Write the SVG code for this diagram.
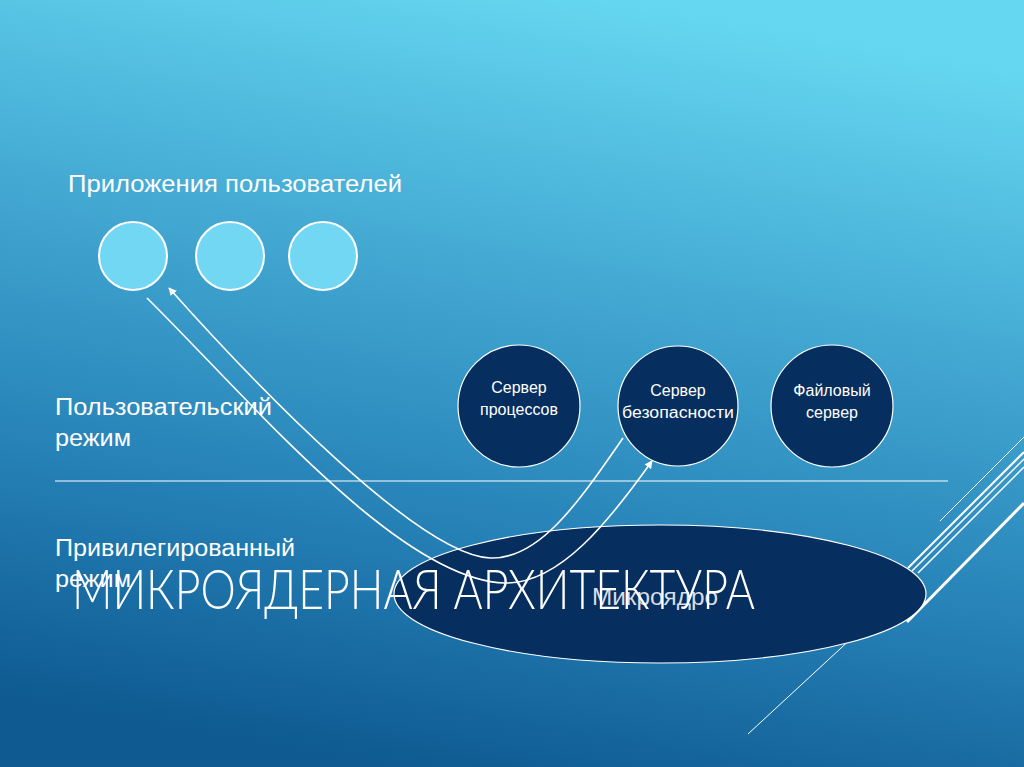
<svg xmlns="http://www.w3.org/2000/svg" width="1024" height="767" viewBox="0 0 1024 767">
<defs>
<linearGradient id="bg" x1="0.62" y1="0" x2="0.38" y2="1">
<stop offset="0" stop-color="#66d7f1"/>
<stop offset="0.35" stop-color="#44aad3"/>
<stop offset="0.7" stop-color="#2580b6"/>
<stop offset="1" stop-color="#0e5a91"/>
</linearGradient>
<marker id="ah" viewBox="0 0 10 10" refX="9" refY="5" markerWidth="5" markerHeight="5" orient="auto" markerUnits="strokeWidth">
<path d="M0,0 L10,5 L0,10 z" fill="#ffffff"/>
</marker>
<style>
.lbl{font-family:"Liberation Sans","DejaVu Sans",sans-serif;fill:#ffffff;font-size:23px}
.srv{font-family:"Liberation Sans","DejaVu Sans",sans-serif;fill:#ffffff;font-size:16px;text-anchor:middle}
.app{fill:#72d7f3;stroke:#ffffff;stroke-width:2}
.dk{fill:#062e5e;stroke:#ffffff;stroke-width:1.2}
.conn{fill:none;stroke:#ffffff;stroke-width:1.6}
.deco{stroke:#ffffff;fill:none}
</style>
</defs>
<rect width="1024" height="767" fill="url(#bg)"/>
<g id="decor">
<line class="deco" x1="55" y1="481" x2="948" y2="481" stroke-width="1.2"/>
<line class="deco" x1="1024" y1="437" x2="940" y2="521" stroke-width="1"/>
<line class="deco" x1="1024" y1="452" x2="908" y2="568" stroke-width="2"/>
<line class="deco" x1="1024" y1="459" x2="912" y2="571" stroke-width="1.5"/>
<line class="deco" x1="1024" y1="467" x2="918" y2="573" stroke-width="1.5"/>
<line class="deco" x1="1024" y1="503" x2="907" y2="622" stroke-width="3"/>
<line class="deco" x1="880" y1="612" x2="748" y2="734" stroke-width="1"/>
<line class="deco" x1="866" y1="624" x2="848" y2="642" stroke-width="1.5"/>
</g>
<g id="kernel">
<ellipse class="dk" cx="660" cy="594" rx="266" ry="69" stroke-width="1.6"/>
</g>
<g id="app1"><circle class="app" cx="133" cy="256" r="34"/></g>
<g id="app2"><circle class="app" cx="230" cy="256" r="34"/></g>
<g id="app3"><circle class="app" cx="323" cy="256" r="34"/></g>
<g id="srv-proc">
<circle class="dk" cx="519" cy="406" r="61"/>
<text class="srv" x="519" y="393">Сервер</text>
<text class="srv" x="519" y="415">процессов</text>
</g>
<g id="srv-sec">
<circle class="dk" cx="678" cy="406" r="60"/>
<text class="srv" x="678" y="396">Сервер</text>
<text class="srv" x="678" y="418" textLength="112" lengthAdjust="spacingAndGlyphs">безопасности</text>
</g>
<g id="srv-file">
<circle class="dk" cx="832" cy="406" r="61"/>
<text class="srv" x="832" y="396">Файловый</text>
<text class="srv" x="832" y="418">сервер</text>
</g>
<g id="connectors">
<path class="conn" d="M147,298 C250,400 400,580 505,583 C560,584 610,520 652,461" marker-end="url(#ah)"/>
<path class="conn" d="M623,438 C580,500 540,560 490,558 C420,555 260,390 169,288" marker-end="url(#ah)"/>
</g>
<g id="labels">
<text class="lbl" x="68" y="192" textLength="334" lengthAdjust="spacingAndGlyphs">Приложения пользователей</text>
<text class="lbl" x="55" y="415" font-size="24" textLength="217" lengthAdjust="spacingAndGlyphs">Пользовательский</text>
<text class="lbl" x="55" y="446" font-size="24" textLength="76" lengthAdjust="spacingAndGlyphs">режим</text>
<text class="lbl" x="55" y="556" font-size="24" textLength="240" lengthAdjust="spacingAndGlyphs">Привилегированный</text>
<text class="lbl" x="55" y="587" font-size="24" textLength="76" lengthAdjust="spacingAndGlyphs">режим</text>
<text x="592" y="605" font-family="Liberation Sans, DejaVu Sans, sans-serif" font-size="23" fill="#d8dde6" textLength="126" lengthAdjust="spacingAndGlyphs">Микроядро</text>
<text x="72" y="609" font-family="Lato, 'Open Sans', sans-serif" font-weight="300" font-size="55" fill="#ffffff" textLength="683" lengthAdjust="spacingAndGlyphs">МИКРОЯДЕРНАЯ АРХИТЕКТУРА</text>
</g>
</svg>
